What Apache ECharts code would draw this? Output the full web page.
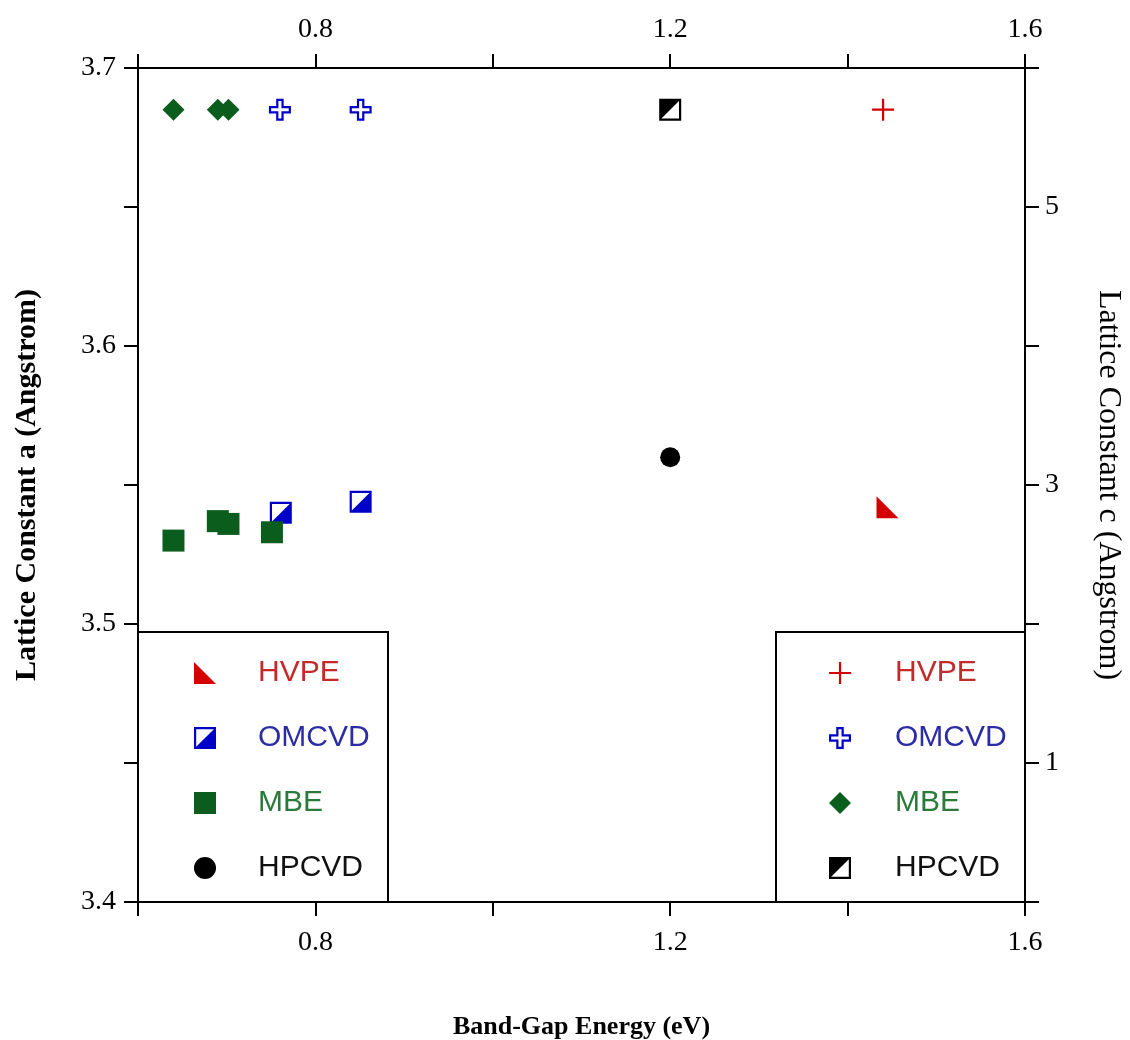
<!DOCTYPE html>
<html>
<head>
<meta charset="utf-8">
<script src="https://cdn.jsdelivr.net/npm/echarts@6/dist/echarts.min.js"></script>
<style>
  html, body { margin: 0; padding: 0; background: #ffffff; }
  #chart { width: 1130px; height: 1040px; }
</style>
</head>
<body>
<div id="chart"></div>
<script>
// Tick labels shown on each axis
const xTickLabels = ['0.8', '1.2', '1.6'];
const aTickLabels = ['3.4', '3.5', '3.6', '3.7'];
const cTickLabels = ['1', '3', '5'];

// Growth methods
const methods = ['HVPE', 'OMCVD', 'MBE', 'HPCVD'];

// [band-gap energy (eV), lattice constant a (Angstrom)]
const hvpeA  = [[1.445, 3.542]];
const omcvdA = [[0.761, 3.540], [0.851, 3.544]];
const mbeA   = [[0.640, 3.530], [0.690, 3.537], [0.702, 3.536], [0.751, 3.533]];
const hpcvdA = [[1.200, 3.560]];

// [band-gap energy (eV), lattice constant c (Angstrom)]
const hvpeC  = [[1.440, 5.70]];
const omcvdC = [[0.760, 5.70], [0.851, 5.70]];
const mbeC   = [[0.640, 5.70], [0.690, 5.70], [0.702, 5.70]];
const hpcvdC = [[1.200, 5.70]];

const RED = '#d40000', BLUE = '#0000c8', GREEN = '#0b5d1e', BLACK = '#000000';
const textColors = { HVPE: '#c42a2a', OMCVD: '#2c2ca6', MBE: '#2a7a3a', HPCVD: '#111111' };
const markColors = { HVPE: RED, OMCVD: BLUE, MBE: GREEN, HPCVD: BLACK };

// Marker shapes (10x10 design box; inner sub-paths wound the other way act as holes)
const SYM = {
  triangle: 'path://M0,0L0,10L10,10Z',
  halfLowerRight: 'path://M0,0L10,0L10,10L0,10Z M1,1L1,9L9,1Z',
  halfUpperLeft: 'path://M0,0L10,0L10,10L0,10Z M9,1L1,9L9,9Z',
  plus: 'path://M4.5,0H5.5V4.5H10V5.5H5.5V10H4.5V5.5H0V4.5H4.5Z',
  openCross: 'path://M3.3,0H6.7V3.3H10V6.7H6.7V10H3.3V6.7H0V3.3H3.3Z ' +
             'M4.3,1V4.3H1V5.7H4.3V9H5.7V5.7H9V4.3H5.7V1Z'
};

const aSymbols = { HVPE: SYM.triangle, OMCVD: SYM.halfLowerRight, MBE: 'rect', HPCVD: 'circle' };
const cSymbols = { HVPE: SYM.plus, OMCVD: SYM.openCross, MBE: 'diamond', HPCVD: SYM.halfUpperLeft };
const aSizes = { HVPE: 22, OMCVD: 22, MBE: 22, HPCVD: 20 };
const cSizes = { HVPE: 22, OMCVD: 22, MBE: 22, HPCVD: 22 };

const aData = { HVPE: hvpeA, OMCVD: omcvdA, MBE: mbeA, HPCVD: hpcvdA };
const cData = { HVPE: hvpeC, OMCVD: omcvdC, MBE: mbeC, HPCVD: hpcvdC };

const serifTick = { fontFamily: 'Liberation Serif', fontSize: 28, color: '#000' };

function pickLabel(list, digits) {
  return function (v) {
    const s = v.toFixed(digits);
    return (list.indexOf(s) >= 0 && Math.abs(v - parseFloat(s)) < 1e-6) ? s : '';
  };
}

const axisLine = { show: true, onZero: false, lineStyle: { color: '#000', width: 2 } };
const axisTick = { show: true, inside: false, length: 14, lineStyle: { color: '#000', width: 2 } };

function makeSeries(name, data, symbol, size, yIndex) {
  return {
    type: 'scatter',
    name: name,
    xAxisIndex: 0,
    yAxisIndex: yIndex,
    data: data,
    symbol: symbol,
    symbolSize: size,
    itemStyle: { color: markColors[name], opacity: 1, borderWidth: 0 },
    emphasis: { disabled: true },
    z: 3
  };
}

// draw order: OMCVD beneath MBE so the green squares sit on top
const order = ['HVPE', 'HPCVD', 'OMCVD', 'MBE'];
const series = [];
order.forEach(m => series.push(makeSeries(m, aData[m], aSymbols[m], aSizes[m], 0)));
order.forEach(m => series.push(makeSeries(m, cData[m], cSymbols[m], cSizes[m], 1)));

function legendBlock(left, padLeft, textPad, symbols) {
  return {
    orient: 'vertical',
    left: left,
    top: 632,
    padding: [26, 0, 19, padLeft],
    itemWidth: 22,
    itemHeight: 22,
    itemGap: 35,
    backgroundColor: '#ffffff',
    borderColor: '#000000',
    borderWidth: 2,
    selectedMode: false,
    z: 10,
    textStyle: {
      fontFamily: 'Liberation Sans',
      fontSize: 30,
      lineHeight: 30,
      width: 130,
      padding: [0, 0, 0, textPad]
    },
    data: methods.map(m => ({
      name: m,
      icon: symbols[m],
      itemStyle: { color: markColors[m], opacity: 1, borderWidth: 0 },
      textStyle: { color: textColors[m] }
    }))
  };
}

const option = {
  backgroundColor: '#ffffff',
  animation: false,
  grid: { left: 138, right: 105, top: 68, bottom: 138, containLabel: false, outerBoundsMode: 'none' },
  legend: [
    legendBlock(138, 56, 37, aSymbols),
    legendBlock(776, 53, 39, cSymbols)
  ],
  xAxis: [
    {
      type: 'value', position: 'bottom', min: 0.6, max: 1.6, interval: 0.2,
      axisLine: axisLine, axisTick: axisTick, splitLine: { show: false },
      axisLabel: Object.assign({ margin: 27, formatter: pickLabel(xTickLabels, 1) }, serifTick),
      name: 'Band-Gap Energy (eV)', nameLocation: 'middle', nameGap: 112,
      nameTextStyle: { fontFamily: 'Liberation Serif', fontWeight: 'bold', fontSize: 26, color: '#000' }
    },
    {
      type: 'value', position: 'top', min: 0.6, max: 1.6, interval: 0.2,
      axisLine: axisLine, axisTick: axisTick, splitLine: { show: false },
      axisLabel: Object.assign({ margin: 24, formatter: pickLabel(xTickLabels, 1) }, serifTick)
    }
  ],
  yAxis: [
    {
      type: 'value', position: 'left', min: 3.4, max: 3.7, interval: 0.05,
      axisLine: axisLine, axisTick: axisTick, splitLine: { show: false },
      axisLabel: Object.assign({ margin: 22, formatter: pickLabel(aTickLabels, 1) }, serifTick),
      name: 'Lattice Constant a (Angstrom)', nameLocation: 'middle', nameGap: 96,
      nameTextStyle: { fontFamily: 'Liberation Serif', fontWeight: 'bold', fontSize: 30, color: '#000' }
    },
    {
      type: 'value', position: 'right', min: 0, max: 6, interval: 1,
      axisLine: axisLine, axisTick: axisTick, splitLine: { show: false },
      axisLabel: Object.assign({ margin: 20, formatter: pickLabel(cTickLabels, 0) }, serifTick),
      name: 'Lattice Constant c (Angstrom)', nameLocation: 'middle', nameGap: 67, nameRotate: -90,
      nameTextStyle: { fontFamily: 'Liberation Serif', fontSize: 32, color: '#000' }
    }
  ],
  series: series
};

const chart = echarts.init(document.getElementById('chart'), null, { renderer: 'canvas' });
chart.setOption(option);
</script>
</body>
</html>
